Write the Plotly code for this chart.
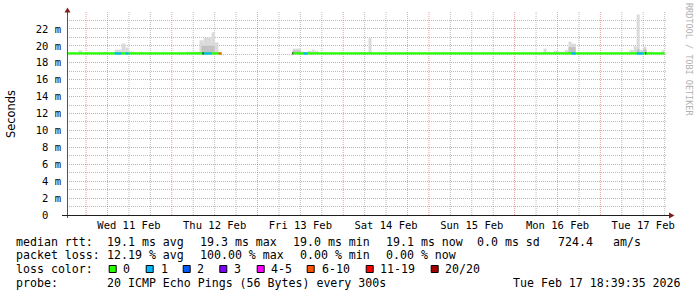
import plotly.graph_objects as go
import pandas as pd

# ---------------- data ----------------
T_START = pd.Timestamp("2026-02-10 18:39:35")
T_END = pd.Timestamp("2026-02-17 18:39:35")

median_rtt = 19.1
data_start = ["2026-02-10 18:39:35", "2026-02-13 09:50"]
data_end = ["2026-02-12 13:55", "2026-02-17 18:00"]

smoke_start = [
    "2026-02-10 21:50", "2026-02-11 00:05", "2026-02-11 04:55", "2026-02-11 08:00",
    "2026-02-11 09:55", "2026-02-11 11:05", "2026-02-11 11:55", "2026-02-11 13:00",
    "2026-02-11 15:00", "2026-02-12 04:10", "2026-02-12 07:45", "2026-02-12 08:55",
    "2026-02-12 11:10", "2026-02-12 12:00", "2026-02-13 09:50", "2026-02-13 12:05",
    "2026-02-13 14:00", "2026-02-13 15:10", "2026-02-13 16:00", "2026-02-14 07:05",
    "2026-02-16 08:05", "2026-02-16 08:55", "2026-02-16 10:55", "2026-02-16 12:20",
    "2026-02-16 14:00", "2026-02-16 15:05", "2026-02-16 15:55", "2026-02-17 08:10",
    "2026-02-17 09:20", "2026-02-17 10:10", "2026-02-17 11:00", "2026-02-17 12:05",
    "2026-02-17 12:55", "2026-02-17 17:10"]
smoke_end = [
    "2026-02-10 23:00", "2026-02-11 01:00", "2026-02-11 06:00", "2026-02-11 09:55",
    "2026-02-11 11:05", "2026-02-11 11:55", "2026-02-11 13:00", "2026-02-11 14:10",
    "2026-02-11 16:05", "2026-02-12 07:45", "2026-02-12 08:55", "2026-02-12 11:10",
    "2026-02-12 12:00", "2026-02-12 13:05", "2026-02-13 12:05", "2026-02-13 12:55",
    "2026-02-13 15:10", "2026-02-13 16:00", "2026-02-13 17:05", "2026-02-14 07:55",
    "2026-02-16 08:55", "2026-02-16 10:05", "2026-02-16 12:20", "2026-02-16 14:00",
    "2026-02-16 15:05", "2026-02-16 15:55", "2026-02-16 17:05", "2026-02-17 09:20",
    "2026-02-17 10:10", "2026-02-17 11:00", "2026-02-17 12:05", "2026-02-17 12:55",
    "2026-02-17 14:55", "2026-02-17 18:00"]
smoke_top = [19.45, 19.3, 19.3, 19.55, 20.26, 19.8, 19.35, 19.3,
             19.3, 19.3, 20.65, 21.0, 21.6, 20.4, 19.67, 19.35,
             19.4, 19.55, 19.4, 20.9, 19.67, 19.3, 19.4, 19.3,
             19.5, 20.5, 20.26, 19.5, 19.95, 23.7, 19.5, 19.9,
             19.3, 19.5]

inner_start = ["2026-02-12 08:20", "2026-02-13 09:50", "2026-02-16 15:05",
               "2026-02-17 10:10", "2026-02-17 12:05"]
inner_end = ["2026-02-12 12:00", "2026-02-13 12:05", "2026-02-16 17:05",
             "2026-02-17 11:00", "2026-02-17 12:55"]
inner_top = [20.0, 19.45, 19.85, 19.6, 19.6]

loss_start = ["2026-02-11 08:00", "2026-02-11 11:05", "2026-02-12 08:55", "2026-02-12 13:05",
              "2026-02-13 12:55", "2026-02-16 15:55", "2026-02-17 10:10"]
loss_end = ["2026-02-11 09:55", "2026-02-11 11:55", "2026-02-12 11:10", "2026-02-12 13:55",
            "2026-02-13 14:00", "2026-02-16 17:05", "2026-02-17 12:05"]
loss_level = ["1", "1", "1", "6-10", "1", "1", "1"]

core_start = ["2026-02-12 08:35", "2026-02-13 09:45", "2026-02-17 12:35"]
core_end = ["2026-02-12 08:55", "2026-02-13 10:00", "2026-02-17 12:50"]

loss_labels = ["0", "1", "2", "3", "4-5", "6-10", "11-19", "20/20"]
loss_colors = ["#26ff00", "#00b8ff", "#0059ff", "#7e00ff", "#ff00ff", "#ff5500", "#ff0000", "#a00000"]

y_ticks = list(range(0, 23, 2))
y_tick_text = ["0\u00a0\u00a0"] + [f"{v} m" for v in y_ticks[1:]]
y_minor = list(range(1, 24, 2))

rtt_legend = ["median rtt:", "19.1 ms avg", "19.3 ms max", "19.0 ms min",
              "19.1 ms now", "0.0 ms sd", "724.4", "am/s"]
loss_legend = ["packet loss:", "12.19 % avg", "100.00 % max", "0.00 % min", "0.00 % now"]
probe_text = ["probe:", "20 ICMP Echo Pings (56 Bytes) every 300s", "Tue Feb 17 18:39:35 2026"]

# ---------------- geometry helpers ----------------
W, H = 697, 297
L, R, T, B = 67, 30, 12, 82
PW, PH = W - L - R, H - T - B


def px(x):
    return (x - L) / PW


def py(y):
    return (H - B - y) / PH


MONO = "DejaVu Sans Mono"
fig = go.Figure()

# smoke
ss = pd.to_datetime(smoke_start)
se = pd.to_datetime(smoke_end)
fig.add_trace(go.Bar(
    x=ss + (se - ss) / 2, width=[(e - s).total_seconds() * 1000 for s, e in zip(ss, se)],
    base=[median_rtt] * len(smoke_top), y=[t - median_rtt for t in smoke_top],
    marker=dict(color="#dadada", line=dict(width=0)), hoverinfo="skip"))
is_ = pd.to_datetime(inner_start)
ie = pd.to_datetime(inner_end)
fig.add_trace(go.Bar(
    x=is_ + (ie - is_) / 2, width=[(e - s).total_seconds() * 1000 for s, e in zip(is_, ie)],
    base=[median_rtt] * len(inner_top), y=[t - median_rtt for t in inner_top],
    marker=dict(color="#c2c2c2", line=dict(width=0)), hoverinfo="skip"))

# median line (green = 0 loss)
mx, my = [], []
for s, e in zip(data_start, data_end):
    mx += [s, e, None]
    my += [median_rtt, median_rtt, None]
fig.add_trace(go.Scatter(x=mx, y=my, mode="lines",
                         line=dict(color=loss_colors[0], width=2.2), hoverinfo="skip"))

# loss-coloured segments
for lvl in sorted(set(loss_level)):
    xs, ys = [], []
    for s, e, l in zip(loss_start, loss_end, loss_level):
        if l == lvl:
            xs += [s, e, None]
            ys += [median_rtt, median_rtt, None]
    fig.add_trace(go.Scatter(x=xs, y=ys, mode="lines",
                             line=dict(color=loss_colors[loss_labels.index(lvl)], width=2.2),
                             hoverinfo="skip"))
cx, cy = [], []
for s, e in zip(core_start, core_end):
    cx += [s, e, None]
    cy += [median_rtt, median_rtt, None]
fig.add_trace(go.Scatter(x=cx, y=cy, mode="lines", line=dict(color="#202020", width=2.2),
                         hoverinfo="skip"))

# vertical grid (6h minor, midnight major)
shapes = []
t = T_START.floor("6h") + pd.Timedelta(hours=6)
while t < T_END:
    major = t.hour == 0
    shapes.append(dict(type="line", xref="x", yref="paper", x0=t, x1=t, y0=0, y1=1,
                       layer="below",
                       line=dict(color="rgba(222,79,79,0.55)" if major else "rgba(143,143,143,0.6)",
                                 width=1, dash="1px,1px")))
    t += pd.Timedelta(hours=6)

# axes lines and arrows
shapes.append(dict(type="line", xref="paper", yref="paper", x0=px(67.5), x1=px(67.5),
                   y0=py(218), y1=py(11), line=dict(color="#555555", width=1)))
shapes.append(dict(type="line", xref="paper", yref="paper", x0=px(62), x1=px(670),
                   y0=py(215.5), y1=py(215.5), line=dict(color="#1f1f1f", width=1)))
shapes.append(dict(type="path", xref="paper", yref="paper",
                   path=f"M {px(64.5)} {py(12.5)} L {px(70.5)} {py(12.5)} L {px(67.5)} {py(7.5)} Z",
                   fillcolor="#801f1f", line=dict(width=0)))
shapes.append(dict(type="path", xref="paper", yref="paper",
                   path=f"M {px(669)} {py(212.5)} L {px(669)} {py(218.5)} L {px(674.5)} {py(215.5)} Z",
                   fillcolor="#801f1f", line=dict(width=0)))

# legend boxes
box_x = [108.7, 145.7, 182.7, 219.3, 256.7, 306.7, 365.7, 430.7]
lab_x = [123.3, 160.7, 197.3, 234.3, 270.7, 321.7, 380, 445]
for bx, col in zip(box_x, loss_colors):
    shapes.append(dict(type="rect", xref="paper", yref="paper",
                       x0=px(bx + 0.5), x1=px(bx + 7.5), y0=py(272.5), y1=py(265.5),
                       fillcolor=col, line=dict(color="#000000", width=1)))

ann = []


def text(x, y, s, size=11.6, **kw):
    ann.append(dict(xref="paper", yref="paper", x=px(x), y=py(y), text=s, showarrow=False,
                    xanchor=kw.pop("xanchor", "left"), yanchor="middle", borderpad=0,
                    font=dict(family=kw.pop("family", MONO), size=size,
                              color=kw.pop("color", "#000000")), **kw))


rtt_x = [16, 107.3, 200, 293.3, 385.7, 477.3, 558.3, 613.3]
for x, s in zip(rtt_x, rtt_legend):
    text(x - 1, 241.7, s)
loss_x = [16, 107.3, 200, 300.3, 385.7]
for x, s in zip(loss_x, loss_legend):
    text(x - 1, 255, s)
text(15, 269, "loss color:")
for x, s in zip(lab_x, loss_labels):
    text(x - 1, 269, s)
probe_x = [16, 107.3, 513.3]
for x, s in zip(probe_x, probe_text):
    text(x - 1, 283.3, s)

text(11, 114, "Seconds", size=11.4, family="DejaVu Sans", textangle=-90, xanchor="center")
text(689, 59, "RRDTOOL / TOBI OETIKER", size=8.5, color="#b0b0b0", textangle=90,
     xanchor="center")

noons = pd.date_range("2026-02-11 12:00", "2026-02-17 12:00", freq="D")

fig.update_layout(
    width=W, height=H, margin=dict(l=L, r=R, t=T, b=B, pad=0),
    paper_bgcolor="white", plot_bgcolor="white", showlegend=False,
    barmode="overlay", shapes=shapes, annotations=ann,
    xaxis=dict(type="date", range=[T_START, T_END], tickvals=list(noons),
               ticktext=[d.strftime("%a %d %b") for d in noons],
               showgrid=False, zeroline=False, showline=False, ticks="",
               ticklabelstandoff=2,
               tickfont=dict(family=MONO, size=10.5, color="#000000")),
    yaxis=dict(range=[0, 24], tickvals=y_ticks, ticktext=y_tick_text,
               showgrid=True, gridcolor="rgba(222,79,79,0.55)", griddash="1px,1px", gridwidth=1,
               minor=dict(tickvals=y_minor, showgrid=True, gridcolor="rgba(143,143,143,0.6)",
                          griddash="1px,1px", gridwidth=1),
               zeroline=False, showline=False, ticks="",
               ticklabelstandoff=5,
               tickfont=dict(family=MONO, size=10.5, color="#000000")),
)

fig.write_html("out.html")
